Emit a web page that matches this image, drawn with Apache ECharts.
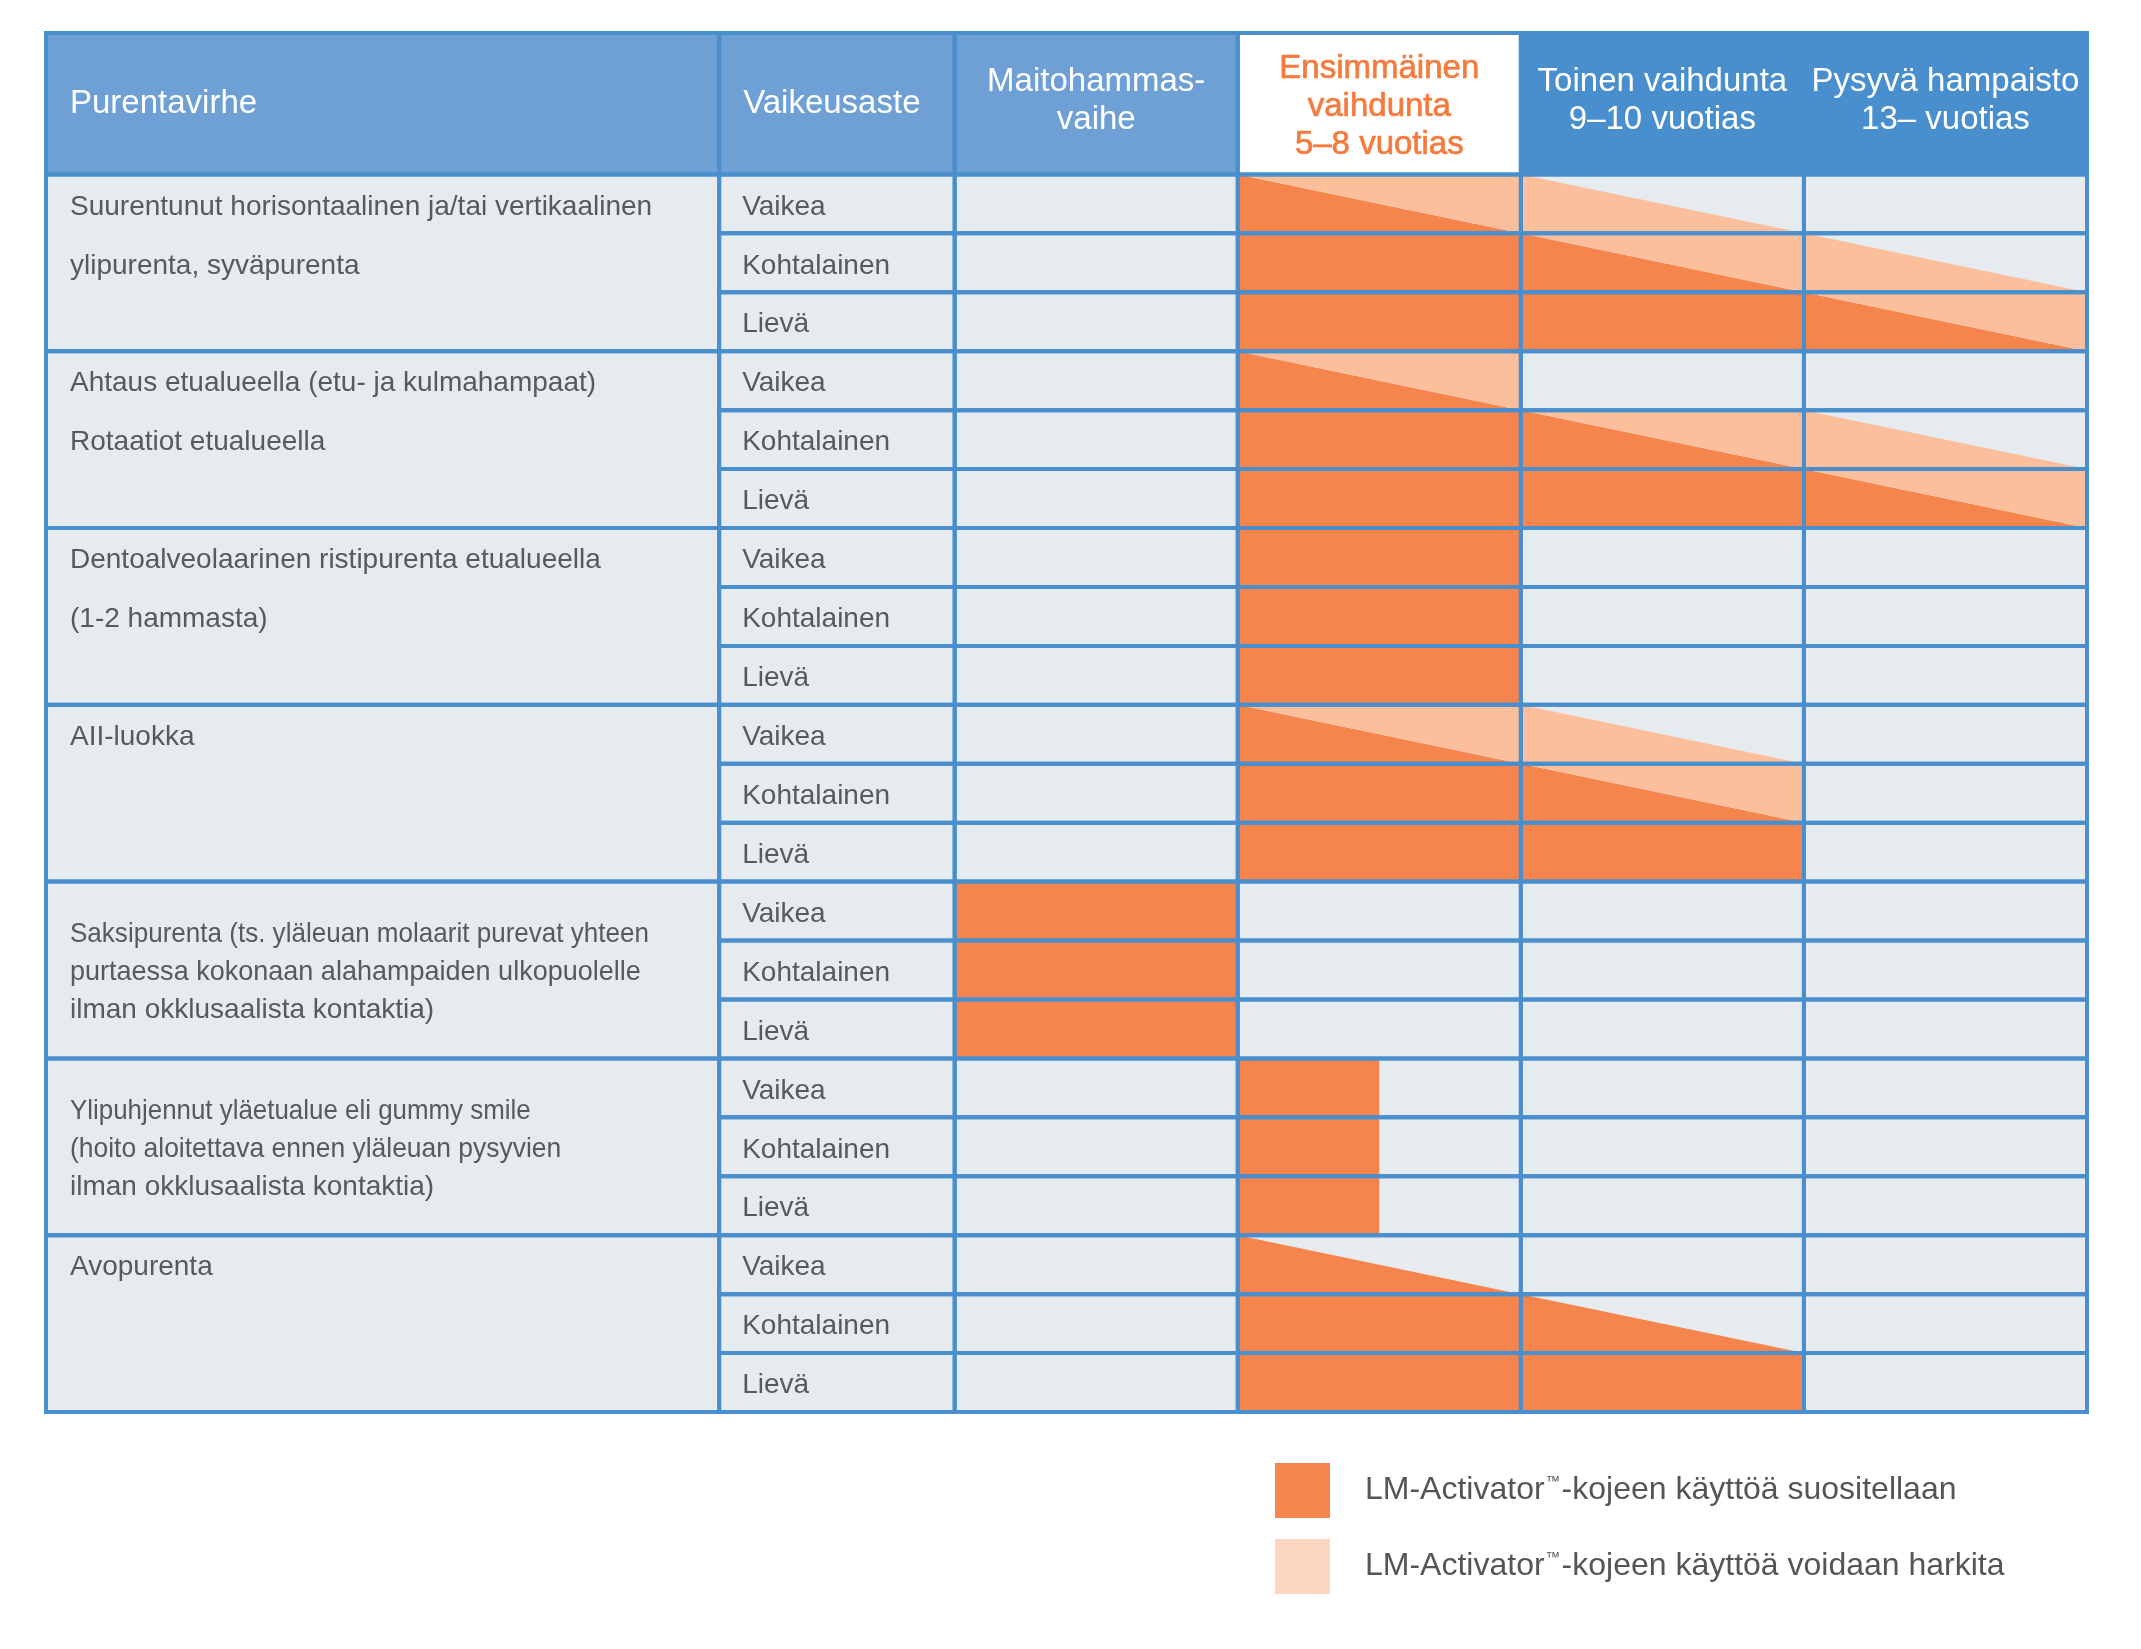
<!DOCTYPE html>
<html>
<head>
<meta charset="utf-8">
<script src="https://cdn.jsdelivr.net/npm/echarts@6/dist/echarts.min.js"></script>
<style>
  html, body { margin: 0; padding: 0; background: #fff; }
  #chart { width: 2141px; height: 1649px; }
</style>
</head>
<body>
<div id="chart"></div>
<script>
// header texts
var headerLabels = ['Purentavirhe', 'Vaikeusaste'];
var timeColumns = [
  'Maitohammas-\nvaihe',
  'Ensimmäinen\nvaihdunta\n5–8 vuotias',
  'Toinen vaihdunta\n9–10 vuotias',
  'Pysyvä hampaisto\n13– vuotias'
];
var severities = ['Vaikea', 'Kohtalainen', 'Lievä'];

// one entry per malocclusion group (3 severity rows each)
var malocclusions = [
  ['Suurentunut horisontaalinen ja/tai vertikaalinen', 'ylipurenta, syväpurenta'],
  ['Ahtaus etualueella (etu- ja kulmahampaat)', 'Rotaatiot etualueella'],
  ['Dentoalveolaarinen ristipurenta etualueella', '(1-2 hammasta)'],
  ['AII-luokka'],
  ['Saksipurenta (ts. yläleuan molaarit purevat yhteen', 'purtaessa kokonaan alahampaiden ulkopuolelle', 'ilman okklusaalista kontaktia)'],
  ['Ylipuhjennut yläetualue eli gummy smile', '(hoito aloitettava ennen yläleuan pysyvien', 'ilman okklusaalista kontaktia)'],
  ['Avopurenta']
];

// per row (Vaikea, Kohtalainen, Lievä for each group), one code per time column
// S = suositellaan, H = voidaan harkita, '-' = ei; 'a/b' = lower-left / upper-right triangle; 'S½' = left half
var recommendations = [
  ['-', 'S/H', 'H/-', '-'],
  ['-', 'S',   'S/H', 'H/-'],
  ['-', 'S',   'S',   'S/H'],
  ['-', 'S/H', '-',   '-'],
  ['-', 'S',   'S/H', 'H/-'],
  ['-', 'S',   'S',   'S/H'],
  ['-', 'S',   '-',   '-'],
  ['-', 'S',   '-',   '-'],
  ['-', 'S',   '-',   '-'],
  ['-', 'S/H', 'H/-', '-'],
  ['-', 'S',   'S/H', '-'],
  ['-', 'S',   'S',   '-'],
  ['S', '-',   '-',   '-'],
  ['S', '-',   '-',   '-'],
  ['S', '-',   '-',   '-'],
  ['-', 'S½',  '-',   '-'],
  ['-', 'S½',  '-',   '-'],
  ['-', 'S½',  '-',   '-'],
  ['-', 'S/-', '-',   '-'],
  ['-', 'S',   'S/-', '-'],
  ['-', 'S',   'S',   '-']
];

var legendLabels = [
  'LM-Activator™-kojeen käyttöä suositellaan',
  'LM-Activator™-kojeen käyttöä voidaan harkita'
];

// ---- layout (x: time columns are 0..4, label columns to the left; y: rows, header above 0)
var X_LABEL = -3.21, X_SEV = -0.832, X_END = 4;
var Y_HEAD = -2.4;
var ROWS = recommendations.length;
var FONT = '"Liberation Sans", Arial, Helvetica, sans-serif';
var LINE = '#4a8fcd';
var DARK = '#f5854d';
var LIGHT = '#fbbf9c';
var GREY = '#e6ebf0';
var TEXT = '#58595b';
var ORANGE_TEXT = '#f47b3e';
// tighter tracking of the three-line labels in the original
var lineSqueeze = { 4: [0.93, 0.965, 1], 5: [0.925, 0.945, 1] };

// level of lower-left, upper-right triangle (2 = suositellaan, 1 = harkita), width
var codeParts = {
  'S':   [2, 2, 1],
  'S/H': [2, 1, 1],
  'H/-': [1, 0, 1],
  'S/-': [2, 0, 1],
  'S½':  [2, 2, 0.5]
};

// cells: [x0, y0, x1, y1, kind]  kind 0 body, 1 header light blue, 2 header white, 3 header blue
var cells = [];
cells.push([X_LABEL, Y_HEAD, X_SEV, 0, 1]);
cells.push([X_SEV, Y_HEAD, 0, 0, 1]);
timeColumns.forEach(function (t, i) {
  cells.push([i, Y_HEAD, i + 1, 0, i === 0 ? 1 : (i === 1 ? 2 : 3)]);
});
malocclusions.forEach(function (m, g) {
  cells.push([X_LABEL, g * 3, X_SEV, g * 3 + 3, 0]);
});
for (var r = 0; r < ROWS; r++) {
  cells.push([X_SEV, r, 0, r + 1, 0]);
  for (var c = 0; c < timeColumns.length; c++) cells.push([c, r, c + 1, r + 1, 0]);
}
var kindColor = [GREY, '#6fa0d5', '#ffffff', LINE];

var fillCells = [];
recommendations.forEach(function (row, r) {
  row.forEach(function (code, c) {
    if (codeParts[code]) fillCells.push({ c: c, r: r, code: code });
  });
});

// texts: {x, y, text, kind}
var texts = [];
texts.push({ x: X_LABEL, y: Y_HEAD / 2, text: headerLabels[0], kind: 'headLeft' });
texts.push({ x: X_SEV, y: Y_HEAD / 2, text: headerLabels[1], kind: 'headLeft' });
timeColumns.forEach(function (t, i) {
  texts.push({ x: i + 0.5, y: Y_HEAD / 2, text: t, kind: i === 1 ? 'headOrange' : 'headCenter' });
});
malocclusions.forEach(function (lines, g) {
  if (lines.length === 3) {
    lines.forEach(function (line, i) {
      texts.push({ x: X_LABEL, y: g * 3 + 1.5, text: line, kind: 'groupTight', line: i, squeeze: lineSqueeze[g][i] });
    });
  } else {
    texts.push({ x: X_LABEL, y: g * 3, text: lines.join('\n'), kind: 'groupRows' });
  }
});
for (var r2 = 0; r2 < ROWS; r2++) {
  texts.push({ x: X_SEV, y: r2 + 0.5, text: severities[r2 % 3], kind: 'sev' });
}

function rectOf(api, x0, y0, x1, y1) {
  var p0 = api.coord([x0, y0]), p1 = api.coord([x1, y1]);
  return { x: p0[0], y: p0[1], width: p1[0] - p0[0], height: p1[1] - p0[1] };
}

function cellRender(stroke) {
  return function (params, api) {
    var d = cells[params.dataIndex];
    return {
      type: 'rect',
      shape: rectOf(api, d[0], d[1], d[2], d[3]),
      style: stroke
        ? { fill: 'none', stroke: LINE, lineWidth: 4 }
        : { fill: kindColor[d[4]] }
    };
  };
}

function fillRender(level, color) {
  return function (params, api) {
    var d = fillCells[params.dataIndex];
    var p = codeParts[d.code];
    var c = d.c, r = d.r, w = p[2];
    var tl = api.coord([c, r]), tr = api.coord([c + w, r]);
    var bl = api.coord([c, r + 1]), br = api.coord([c + w, r + 1]);
    var children = [];
    if (p[0] === level && p[1] === level) {
      children.push({ type: 'rect', shape: rectOf(api, c, r, c + w, r + 1), style: { fill: color } });
    } else {
      if (p[0] === level) children.push({ type: 'polygon', shape: { points: [tl, bl, br] }, style: { fill: color } });
      if (p[1] === level) children.push({ type: 'polygon', shape: { points: [tl, tr, br] }, style: { fill: color } });
    }
    return { type: 'group', children: children };
  };
}

function textRender(params, api) {
  var t = texts[params.dataIndex];
  var p = api.coord([t.x, t.y]);
  var rowPx = api.size([0, 1])[1];
  var style = { text: t.text, fontFamily: FONT, fill: TEXT, fontSize: 28 };
  if (t.kind === 'headLeft') {
    Object.assign(style, { x: p[0] + 24, y: p[1], fontSize: 33, fill: '#ffffff', align: 'left', verticalAlign: 'middle' });
  } else if (t.kind === 'headCenter') {
    Object.assign(style, {
      x: p[0], y: p[1] - 3, fontSize: 33, lineHeight: 38, fill: '#ffffff',
      align: 'center', verticalAlign: 'middle'
    });
  } else if (t.kind === 'headOrange') {
    Object.assign(style, {
      x: p[0], y: p[1] + 3, fontSize: 33, lineHeight: 38, fill: ORANGE_TEXT,
      stroke: ORANGE_TEXT, lineWidth: 0.7,
      align: 'center', verticalAlign: 'middle'
    });
  } else if (t.kind === 'groupTight') {
    Object.assign(style, { x: 0, y: 0, align: 'left', verticalAlign: 'middle' });
    return {
      type: 'text',
      x: p[0] + 24,
      y: p[1] + 2 + (t.line - 1) * 38,
      scaleX: t.squeeze,
      style: style
    };
  } else if (t.kind === 'groupRows') {
    Object.assign(style, { x: p[0] + 24, y: p[1] + 3, lineHeight: rowPx, align: 'left', verticalAlign: 'top' });
  } else {
    Object.assign(style, { x: p[0] + 23, y: p[1] + 3, align: 'left', verticalAlign: 'middle' });
  }
  return { type: 'text', style: style };
}

var chart = echarts.init(document.getElementById('chart'));
var option = {
  backgroundColor: '#ffffff',
  animation: false,
  grid: { left: 46, right: 54, top: 33, bottom: 237 },
  xAxis: { type: 'value', min: X_LABEL, max: X_END, show: false },
  yAxis: { type: 'value', min: Y_HEAD, max: ROWS, inverse: true, show: false },
  legend: {
    orient: 'vertical',
    left: 1275,
    top: 1463,
    itemWidth: 55,
    itemHeight: 55,
    itemGap: 21,
    padding: 0,
    icon: 'rect',
    selectedMode: false,
    formatter: function (name) { return name.replace('™', '{tm|™}'); },
    textStyle: {
      fontFamily: FONT, fontSize: 32, color: '#555555', padding: [0, 0, 0, 30],
      rich: { tm: { fontFamily: FONT, fontSize: 15, color: '#555555', verticalAlign: 'top', padding: [0, 1, 12, 1] } }
    },
    data: [
      { name: legendLabels[0], itemStyle: { color: DARK } },
      { name: legendLabels[1], itemStyle: { color: '#fcd6c0' } }
    ]
  },
  series: [
    {
      type: 'custom', name: 'cells', z: 1, clip: false, silent: true,
      renderItem: cellRender(false),
      data: cells.map(function (d) { return [(d[0] + d[2]) / 2, (d[1] + d[3]) / 2]; })
    },
    {
      type: 'custom', name: legendLabels[0], z: 2, clip: false, silent: true,
      itemStyle: { color: DARK },
      renderItem: fillRender(2, DARK),
      data: fillCells.map(function (d) { return [d.c + 0.5, d.r + 0.5]; })
    },
    {
      type: 'custom', name: legendLabels[1], z: 2, clip: false, silent: true,
      itemStyle: { color: '#fcd6c0' },
      renderItem: fillRender(1, LIGHT),
      data: fillCells.map(function (d) { return [d.c + 0.5, d.r + 0.5]; })
    },
    {
      type: 'custom', name: 'borders', z: 3, clip: false, silent: true,
      renderItem: cellRender(true),
      data: cells.map(function (d) { return [(d[0] + d[2]) / 2, (d[1] + d[3]) / 2]; })
    },
    {
      type: 'custom', name: 'texts', z: 4, clip: false, silent: true,
      renderItem: textRender,
      data: texts.map(function (t) { return [t.x, t.y]; })
    }
  ]
};
chart.setOption(option);
</script>
</body>
</html>
